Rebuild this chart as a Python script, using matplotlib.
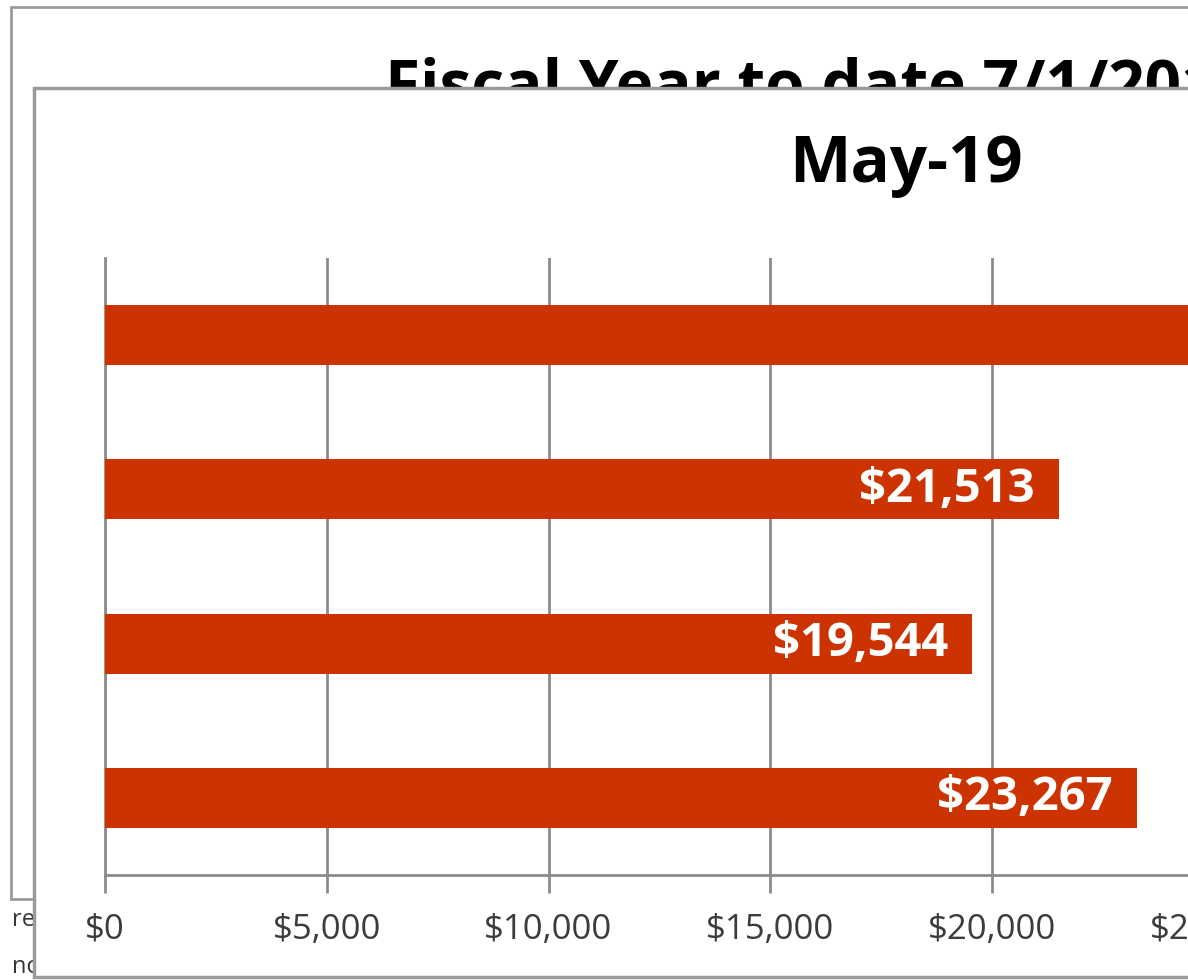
import matplotlib.pyplot as plt
from matplotlib.patches import Rectangle
from matplotlib.ticker import FuncFormatter

# data
categories = ["FY19", "FY18", "FY17", "FY16"]
amounts = [29600, 21513, 19544, 23267]
tick_values = [0, 5000, 10000, 15000, 20000, 25000, 30000]
title = "May-19"
back_title = "Fiscal Year to date 7/1/2018"

W, H = 1188, 980
fig = plt.figure(figsize=(W / 100, H / 100), dpi=100)
fig.patch.set_facecolor("white")
plt.rcParams["font.family"] = ["Open Sans", "DejaVu Sans"]

# chart behind (mostly covered)
fig.patches.append(Rectangle((11 / W, 1 - 899 / H), 1.2, 892 / H, transform=fig.transFigure,
                             facecolor="white", edgecolor="#9a9a9a", lw=2, zorder=1))
fig.text(385 / W, 1 - 105 / H, back_title, fontsize=46, fontweight="bold", color="black",
         ha="left", va="baseline", zorder=3)
fig.text(12 / W, 1 - 926 / H, "results", fontsize=17, color="#333333", zorder=3)
fig.text(12 / W, 1 - 973 / H, "not", fontsize=17, color="#333333", zorder=3)

# front chart frame
fig.patches.append(Rectangle((34 / W, 1 - 977 / H), 1.2, (977 - 88) / H, transform=fig.transFigure,
                             facecolor="white", edgecolor="#9a9a9a", lw=2.5, zorder=4))
fig.text(906 / W, 1 - 166 / H, title, fontsize=47, fontweight="bold", color="black",
         ha="center", va="center", zorder=6)

# plot area runs past the right edge of the picture (chart is cropped)
xmax = 30000
px_per_5000 = 221.75
ax = fig.add_axes([105 / W, 1 - 875 / H, xmax / 5000 * px_per_5000 / W, (875 - 258) / H], zorder=5)
ax.patch.set_alpha(0)

y = range(len(categories))
ax.barh(y, amounts, height=0.39, color="#CC3300", zorder=3)
for i, v in enumerate(amounts):
    ax.annotate("${:,}".format(v), (v, i), xytext=(-24, 0), textcoords="offset pixels",
                color="white", fontsize=34, fontweight="bold",
                ha="right", va="center", zorder=4)

ax.set_xticks(tick_values)
ax.set_xlim(0, xmax)
ax.set_ylim(len(categories) - 0.5, -0.5)
ax.xaxis.set_major_formatter(FuncFormatter(lambda v, p: "${:,.0f}".format(v)))
ax.set_yticks([])
ax.grid(axis="x", color="#8c8c8c", lw=2, zorder=0)
for s in ["top", "right"]:
    ax.spines[s].set_visible(False)
for s in ["left", "bottom"]:
    ax.spines[s].set_color("#8c8c8c")
    ax.spines[s].set_linewidth(2)
ax.tick_params(axis="x", length=13, width=2, color="#8c8c8c", labelsize=25,
               labelcolor="#3c3c3c", pad=14)

fig.savefig("out.png", dpi=100)
